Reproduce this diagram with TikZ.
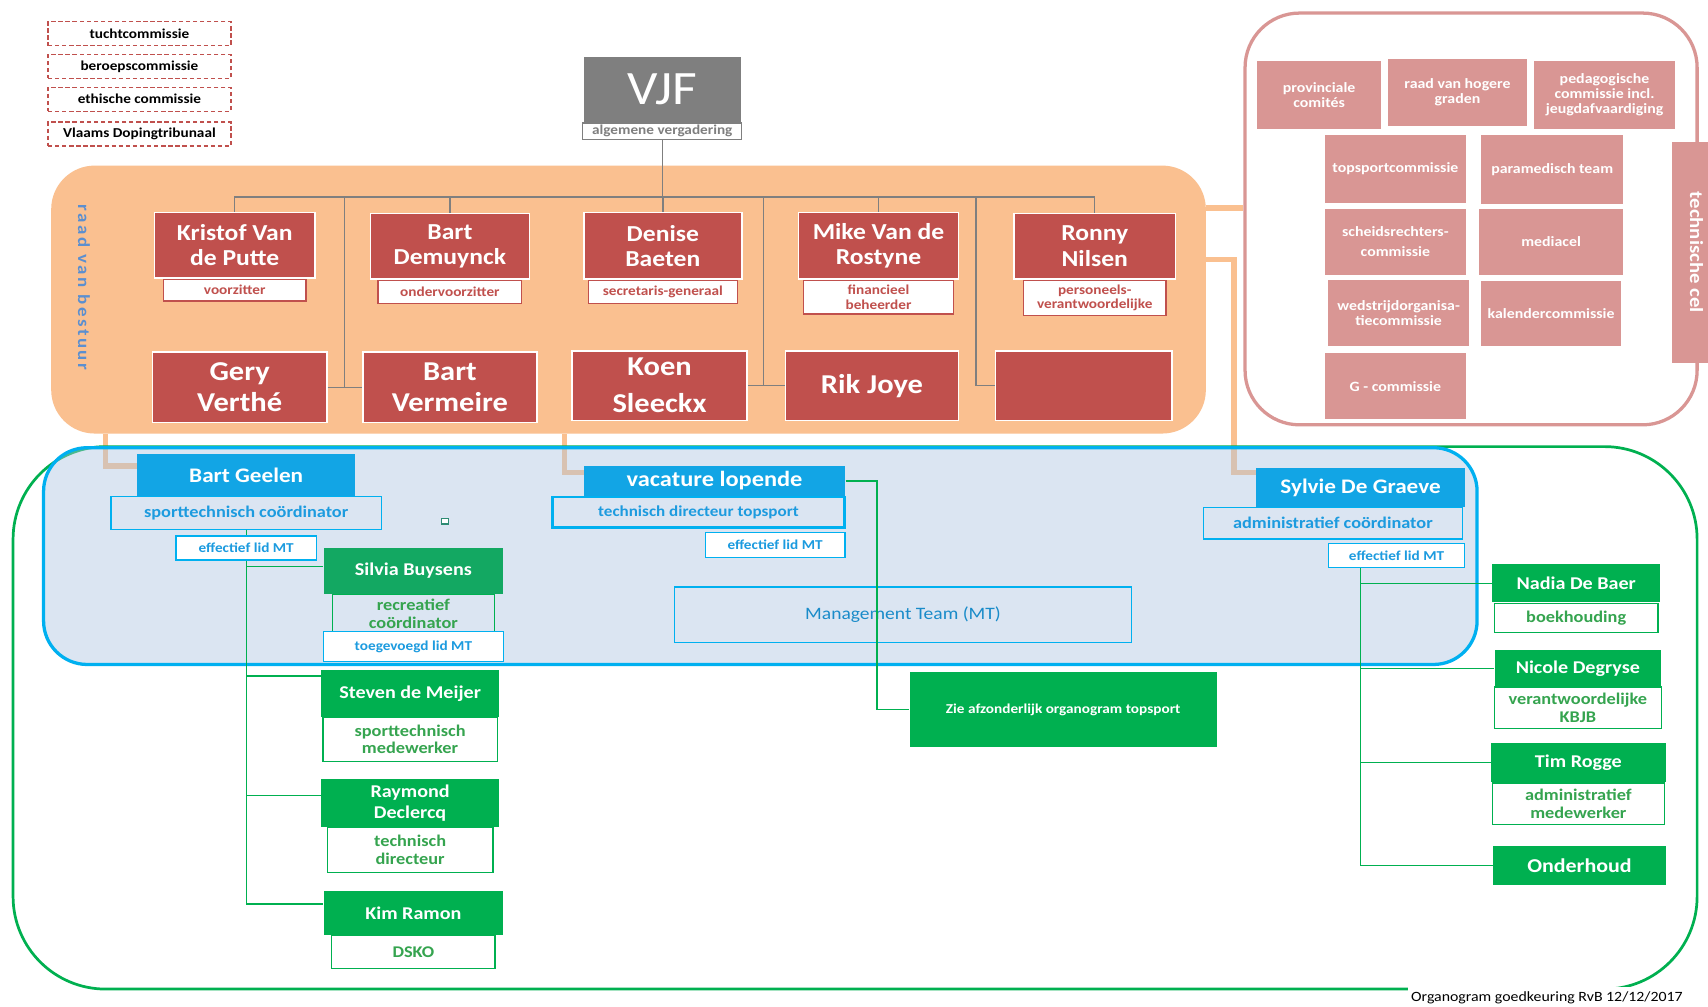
\documentclass[tikz,border=0pt]{standalone}
\usepackage{fontspec}
\setmainfont{Carlito}[FakeStretch=1.12]
\newfontfamily\spacedfont{Carlito}[LetterSpace=15,FakeStretch=1.12]
\usetikzlibrary{positioning,calc,backgrounds}
\pgfdeclarelayer{links}
\pgfsetlayers{background,links,main}
\definecolor{boardred}{HTML}{C0504D}
\definecolor{boardorange}{HTML}{FAC090}
\definecolor{techpink}{HTML}{D99694}
\definecolor{vjfgray}{HTML}{7F7F7F}
\definecolor{mtline}{HTML}{00B0F0}
\definecolor{mtfill}{HTML}{ADC5E1}
\definecolor{nameblue}{HTML}{12A5E5}
\definecolor{textblue}{HTML}{1C9BDF}
\definecolor{staffgreen}{HTML}{00B050}
\definecolor{silviagreen}{HTML}{13A862}
\definecolor{textgreen}{HTML}{35A44F}
\definecolor{raadblue}{HTML}{5B8FD0}
\definecolor{dotteal}{HTML}{2E8B74}

\begin{document}
\begin{tikzpicture}[x=1pt, y=-1pt,
  every node/.style={inner sep=0pt, align=center},
  wh/.style 2 args={minimum width=#1pt, minimum height=#2pt},
  comm/.style={draw=boardred, line width=1.1pt, dash pattern=on 4pt off 2.5pt,
               font=\fontsize{12.5}{14}\selectfont\bfseries, wh={168}{22}},
  bname/.style={fill=boardred, draw=white, line width=1.5pt, text=white,
                font=\fontsize{21}{23}\selectfont\bfseries},
  bbig/.style={bname, font=\fontsize{25}{29}\selectfont\bfseries},
  brole/.style={fill=white, draw=boardred, line width=1.2pt, text=boardred,
                font=\fontsize{12.5}{13}\selectfont\bfseries},
  tcbox/.style={fill=techpink, text=white, font=\fontsize{13}{14}\selectfont\bfseries},
  bluename/.style={fill=nameblue, text=white, font=\fontsize{19}{21}\selectfont\bfseries},
  bluerole/.style={draw=mtline, line width=1.2pt, text=textblue,
                   font=\fontsize{15}{17}\selectfont\bfseries},
  bluemt/.style={fill=white, draw=mtline, line width=1.2pt, text=textblue,
                 font=\fontsize{12.5}{14}\selectfont\bfseries},
  greenname/.style={fill=staffgreen, text=white, font=\fontsize{16.5}{19}\selectfont\bfseries},
  greenrole/.style={draw=staffgreen, line width=1.2pt, text=textgreen,
                    font=\fontsize{15}{16}\selectfont\bfseries},
  gray line/.style={draw=vjfgray, line width=1.3pt},
  peach/.style={draw=boardorange, line width=5pt},
  green line/.style={draw=staffgreen, line width=1.2pt}
]
  \useasboundingbox (0,0) rectangle (1568,924);
  \begin{pgfonlayer}{background}
    \fill[white] (0,0) rectangle (1568,924);
  \end{pgfonlayer}

  % staff frame
  \draw[staffgreen, line width=2.5pt, rounded corners=85pt] (12,410) rectangle (1558,908);

  % commissions
  \node[comm] (tucht) at (128,31) {tuchtcommissie};
  \node[comm] (beroep) at (128,61) {beroepscommissie};
  \node[comm] (ethisch) at (128,91) {ethische commissie};
  \node[comm] (doping) at (128,123) {Vlaams Dopingtribunaal};

  % general assembly
  \node[fill=vjfgray, text=white, wh={144}{60}, font=\fontsize{44}{44}\selectfont] (vjf) at (608,82) {VJF};
  \node[below=0pt of vjf, draw=vjfgray, fill=white, line width=1.2pt, wh={146}{15}, text=vjfgray,
        font=\fontsize{12.5}{13}\selectfont\bfseries] (av) {algemene vergadering};

  % board
  \node[fill=boardorange, rounded corners=40pt, wh={1060}{246}] (rvb) at (577,275) {};
  \node[rotate=-90, text=raadblue, font=\spacedfont\fontsize{15.5}{15.5}\selectfont\bfseries] (rvbtitle) at (77,264) {raad van bestuur};

  \node[bname, wh={147}{60}] (kristof) at (215.5,225) {Kristof Van\\de Putte};
  \node[bname, wh={146}{60}] (demuynck) at (413,226) {Bart\\Demuynck};
  \node[bname, wh={145}{61}] (baeten) at (608.5,225.5) {Denise\\Baeten};
  \node[bname, wh={147}{61}] (rostyne) at (806.5,225.5) {Mike Van de\\Rostyne};
  \node[bname, wh={148}{60}] (nilsen) at (1005,226) {Ronny\\Nilsen};
  \node[brole, below=0pt of kristof, wh={131}{20}] (kristofrole) {voorzitter};
  \node[brole, below=0pt of demuynck, wh={132}{21}] (demuynckrole) {ondervoorzitter};
  \node[brole, below=0pt of baeten, wh={137}{21}] (baetenrole) {secretaris-generaal};
  \node[brole, below=0pt of rostyne, wh={138}{31}] (rostynerole) {financieel\\beheerder};
  \node[brole, below=0pt of nilsen, wh={131}{32}] (nilsenrole) {personeels-\\verantwoordelijke};

  \node[bbig, wh={160}{65}] (verthe) at (220,355.5) {Gery\\Verth\'e};
  \node[bbig, wh={160}{65}] (vermeire) at (413,355.5) {Bart\\Vermeire};
  \node[bbig, wh={161}{64}] (sleeckx) at (605.5,354) {Koen\\[5pt]Sleeckx};
  \node[bbig, wh={159}{64}] (joye) at (800.5,354) {Rik Joye};
  \node[bbig, wh={162}{64}] (vacant) at (995,354) {};

  \coordinate (bus) at (0,181);
  \coordinate (j1) at (316,181);
  \coordinate (j2) at (701,181);
  \coordinate (j3) at (896,181);
  \draw[gray line] (av.south) -- (av.south |- bus);
  \draw[gray line] (kristof.north) |- (bus -| nilsen.north) -- (nilsen.north);
  \foreach \n in {demuynck, baeten, rostyne}
    \draw[gray line] (\n.north) -- (\n.north |- bus);
  \draw[gray line] (j1) -- (j1 |- verthe.east);
  \draw[gray line] (verthe.east) -- (vermeire.west);
  \draw[gray line] (j2) -- (j2 |- sleeckx.east);
  \draw[gray line] (sleeckx.east) -- (joye.west);
  \draw[gray line] (j3) |- (vacant.west);

  % technical cell
  \node[draw=techpink, line width=3pt, rounded corners=50pt, wh={415}{378}] (tc) at (1350.5,201) {};
  \node[tcbox, wh={114}{62}] (prov) at (1211,87) {provinciale\\comit\'es};
  \node[tcbox, wh={128}{62}] (graden) at (1338,85) {raad van hogere\\graden};
  \node[tcbox, wh={130}{62}] (pedago) at (1473,87) {pedagogische\\commissie incl.\\jeugdafvaardiging};
  \node[tcbox, wh={130}{62}] (topcom) at (1281,155) {topsportcommissie};
  \node[tcbox, wh={130}{63}] (paramed) at (1425,155.5) {paramedisch team};
  \node[tcbox, wh={130}{60}] (scheids) at (1281,222) {scheidsrechters-\\[4pt]commissie};
  \node[tcbox, wh={132}{60}] (media) at (1424,222) {mediacel};
  \node[tcbox, wh={130}{61}] (wedstrijd) at (1284,287.5) {wedstrijdorganisa-\\tiecommissie};
  \node[tcbox, wh={128}{60}] (kalender) at (1424,288) {kalendercommissie};
  \node[tcbox, wh={130}{61}] (gcom) at (1281,354.5) {G - commissie};
  \node[tcbox, rotate=-90, wh={203}{45}, font=\fontsize{17}{17}\selectfont\bfseries] (tcbar) at (1557.5,231.5) {technische cel};

  % management team
  \node[draw=mtline, line width=3pt, fill=mtfill, fill opacity=0.43, rounded corners=40pt,
        wh={1316}{199}] (mt) at (698,510.5) {};
  \node[draw=mtline, line width=1.2pt, wh={420}{51}, text=textblue!90!black,
        font=\fontsize{16}{18}\selectfont] (mtlabel) at (829,564.5) {Management Team (MT)};

  \node[bluename, wh={200}{38}] (geelen) at (226,436) {Bart Geelen};
  \node[bluerole, below=0pt of geelen, wh={248}{30}] (geelenrole) {sporttechnisch co\"ordinator};
  \node[bluename, wh={240}{27}, font=\fontsize{20}{21}\selectfont\bfseries] (vacature) at (656,441.5) {vacature lopende};
  \node[bluerole, anchor=north east, line width=2pt, wh={268}{28}, font=\fontsize{14}{16}\selectfont\bfseries]
       (vacrole) at (vacature.south east) {technisch directeur topsport};
  \node[bluemt, anchor=north east, wh={128}{23}] (vacmt) at ([yshift=-3pt]vacrole.south east) {effectief lid MT};
  \node[bluename, wh={192}{35}] (sylvie) at (1249,447.5) {Sylvie De Graeve};
  \node[bluerole, anchor=north east, wh={238}{29}] (sylvierole) at ([xshift=-2pt]sylvie.south east) {administratief co\"ordinator};
  \node[bluemt, anchor=north east, wh={125}{22}] (sylviemt) at ([xshift=2pt,yshift=-3pt]sylvierole.south east) {effectief lid MT};
  \node[draw=dotteal, line width=1pt, fill=white, wh={7}{5}] (dot) at (408.5,478.5) {};

  % staff
  \node[greenname, fill=silviagreen, wh={165}{42}] (buysens) at (379.5,524) {Silvia Buysens};
  \node[greenrole, below=0pt of buysens, wh={149}{35}] (buysensrole) {recreatief\\co\"ordinator};
  \node[bluemt, below=-2pt of buysensrole, wh={165}{27}] (buysensmt) {toegevoegd lid MT};
  \node[greenname, wh={163}{43}] (meijer) at (376.5,636.5) {Steven de Meijer};
  \node[greenrole, below=0pt of meijer, wh={160}{40}] (meijerrole) {sporttechnisch\\medewerker};
  \node[greenname, wh={163}{44}] (declercq) at (376.5,737) {Raymond\\Declercq};
  \node[greenrole, below=0pt of declercq, wh={152}{41}] (declercqrole) {technisch\\directeur};
  \node[greenname, wh={165}{40}] (ramon) at (379.5,838) {Kim Ramon};
  \node[greenrole, below=0pt of ramon, wh={150}{30}] (ramonrole) {DSKO};

  \node[greenname, wh={282}{69}, font=\fontsize{12.5}{14}\selectfont\bfseries] (topsport) at (976,651.5) {Zie afzonderlijk organogram topsport};

  \node[greenname, wh={154}{35}] (nadia) at (1447,535.5) {Nadia De Baer};
  \node[greenrole, below=0pt of nadia, wh={150}{27}] (nadiarole) {boekhouding};
  \node[greenname, wh={153}{33}] (degryse) at (1448.5,613.5) {Nicole Degryse};
  \node[greenrole, below=0pt of degryse, wh={153}{38}] (degryserole) {verantwoordelijke\\KBJB};
  \node[greenname, wh={160}{36}] (rogge) at (1449,700) {Tim Rogge};
  \node[greenrole, below=0pt of rogge, wh={158}{38}] (roggerole) {administratief\\medewerker};
  \node[greenname, wh={158}{35}, font=\fontsize{18}{19}\selectfont\bfseries] (onderhoud) at (1450,794.5) {Onderhoud};

  % staff links
  \draw[green line] (geelenrole.south) |- ([yshift=4pt]buysens.west);
  \draw[green line] (geelenrole.south) |- ([yshift=16pt]meijer.west);
  \draw[green line] (geelenrole.south) |- ([yshift=7pt]declercq.west);
  \draw[green line] (geelenrole.south) |- ([yshift=8pt]ramon.west);
  \node[bluemt, below=5pt of geelenrole, wh={129}{22}] (geelenmt) {effectief lid MT};
  \draw[green line] (vacature.east) -- ++(29,0) |- (topsport.west);
  \foreach \n in {nadia, degryse, rogge, onderhoud}
    \draw[green line] (sylviemt.south -| 1249,0) |- (\n.west);

  % board links
  \begin{pgfonlayer}{links}
    \draw[peach] (rvb.east |- 0,191) -- (tc.west |- 0,191);
    \draw[peach] (rvb.south -| 97,0) |- (geelen.west |- 0,428);
    \draw[peach] (rvb.south -| 518,0) |- (vacature.west |- 0,434);
    \draw[peach] (nilsen.east |- 0,238) -| (1133,434) -- (sylvie.west |- 0,434);
  \end{pgfonlayer}

  \node[fill=white, inner xsep=3pt, inner ysep=4pt, anchor=east, font=\fontsize{13}{14}\selectfont]
       (note) at (1548,916) {Organogram goedkeuring RvB 12/12/2017};
\end{tikzpicture}
\end{document}
